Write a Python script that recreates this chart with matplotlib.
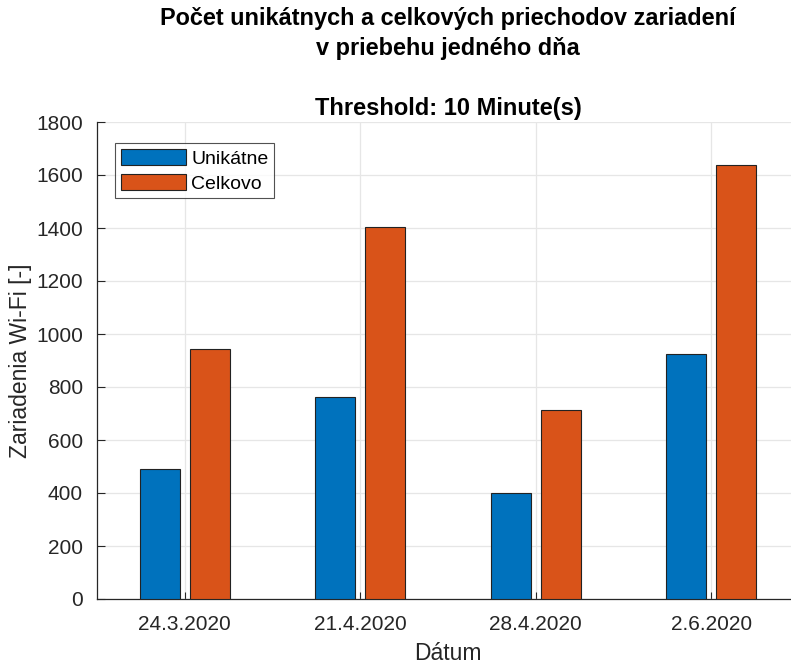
import matplotlib
matplotlib.use("Agg")
import matplotlib.pyplot as plt
import numpy as np

categories = ["24.3.2020", "21.4.2020", "28.4.2020", "2.6.2020"]
unikatne = [490, 762, 400, 925]
celkovo = [943, 1404, 713, 1638]
series_names = ["Unikátne", "Celkovo"]
yticks = [0, 200, 400, 600, 800, 1000, 1200, 1400, 1600, 1800]

plt.rcParams['font.family'] = ['Liberation Sans', 'DejaVu Sans']

W, H = 791, 665
fig = plt.figure(figsize=(W/100, H/100), dpi=100)
ax = fig.add_axes([97/W, 1 - 599/H, (799-97)/W, (599-122)/H])

x = np.arange(1, len(categories) + 1)
bw = 0.228
off = 0.142
ax.bar(x - off, unikatne, bw, color="#0072BD", edgecolor="#222222", linewidth=0.8, label=series_names[0], zorder=3)
ax.bar(x + off, celkovo, bw, color="#D95319", edgecolor="#222222", linewidth=0.8, label=series_names[1], zorder=3)

ax.set_xlim(0.5, 4.5)
ax.set_ylim(0, 1800)
ax.set_xticks(x)
ax.set_xticklabels(categories)
ax.set_yticks(yticks)
ax.grid(True, color="#e6e6e6", linewidth=0.9, zorder=0)
ax.set_axisbelow(True)
for s in ["top", "right"]:
    ax.spines[s].set_visible(False)
for s in ["left", "bottom"]:
    ax.spines[s].set_color("#262626")
    ax.spines[s].set_linewidth(0.9)
ax.tick_params(direction="in", length=6, color="#262626", labelsize=15, labelcolor="#262626")
ax.tick_params(axis="x", length=5, pad=11.5)
ax.tick_params(axis="y", pad=10)

ax.set_xlabel("Dátum", fontsize=16.5, color="#262626", labelpad=6)
ax.set_ylabel("Zariadenia Wi-Fi [-]", fontsize=16.5, color="#262626")
ax.yaxis.set_label_coords((32 - 97) / (799 - 97), 0.5)

leg = ax.legend(loc="upper left", bbox_to_anchor=((115-97)/(799-97), (599-143)/(599-122)),
                fontsize=14, frameon=True, fancybox=False, edgecolor="#262626",
                borderpad=0.3, handlelength=3.35, handleheight=0.93, handletextpad=0.26,
                labelspacing=0.3, borderaxespad=0)
leg.get_frame().set_linewidth(0.8)

fig.text(448/W, 1 - 25/H, "Počet unikátnych a celkových priechodov zariadení",
         ha="center", va="baseline", fontsize=16.9, fontweight="bold", color="black")
fig.text(448/W, 1 - 55/H, "v priebehu jedného dňa",
         ha="center", va="baseline", fontsize=16.9, fontweight="bold", color="black")
fig.text(448/W, 1 - 115/H, "Threshold: 10 Minute(s)", ha="center", va="baseline",
         fontsize=17, fontweight="bold", color="black")

fig.savefig("out.png", dpi=100)
